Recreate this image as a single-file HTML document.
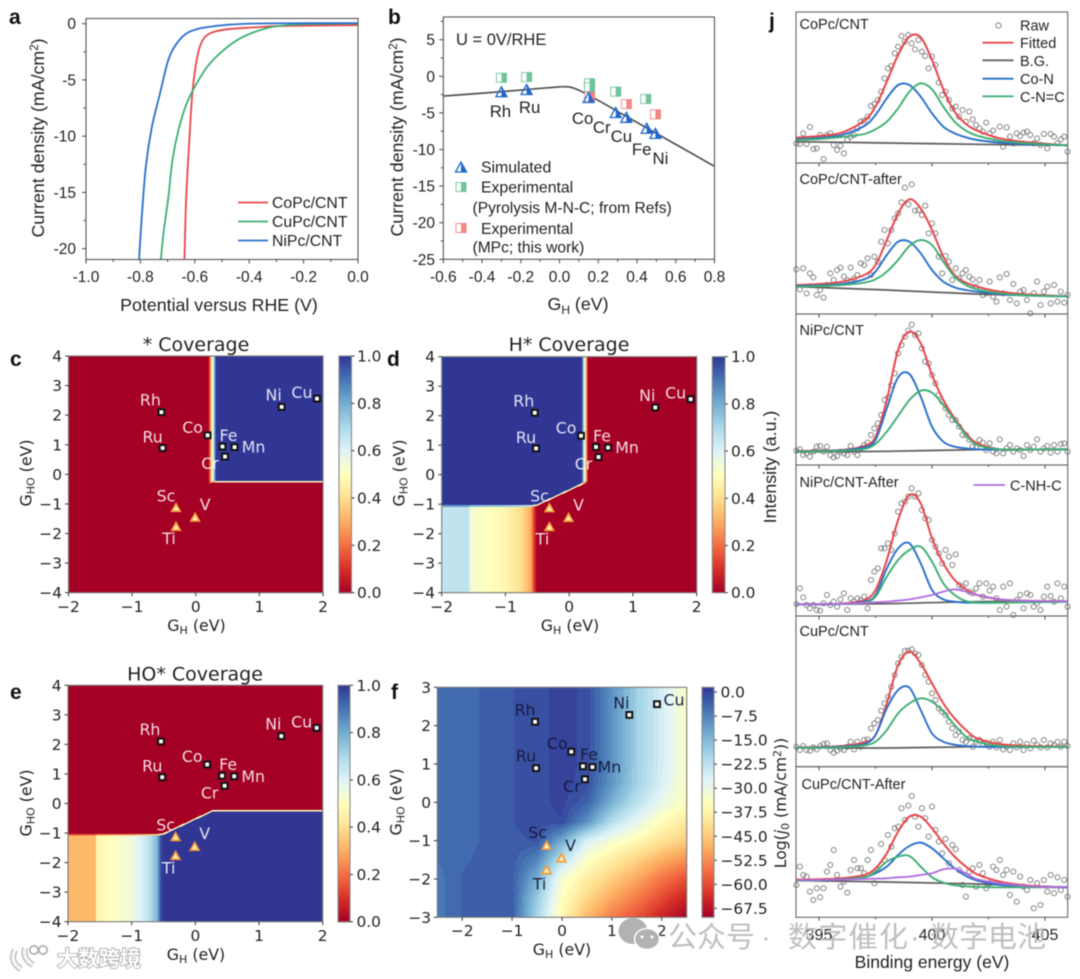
<!DOCTYPE html>
<html lang="en">
<head>
<meta charset="utf-8">
<title>HER catalyst figure</title>
<style>
html,body{margin:0;padding:0;background:#fff;width:1080px;height:979px;overflow:hidden}
svg{display:block;filter:blur(0.55px)}
text{font-family:"Liberation Sans","Noto Sans CJK SC",sans-serif;fill:#222}
.dj{font-family:"DejaVu Sans",sans-serif}
.letter{font-size:21px;font-weight:bold;fill:#111}
.lab{font-size:17.8px}
.lg{font-size:15.8px}
.jt{font-size:14.5px}
.mpl{font-family:"DejaVu Sans",sans-serif;font-size:15.8px}
.title{font-family:"DejaVu Sans",sans-serif;font-size:19px}
.wm{font-family:"Liberation Sans","Noto Sans CJK SC",sans-serif;font-size:29px;fill:#b4b4b4;fill-opacity:.85}
</style>
</head>
<body>
<svg id="fig" xmlns="http://www.w3.org/2000/svg" width="1080" height="979" viewBox="0 0 1080 979">
  <rect x="0" y="0" width="1080" height="979" fill="#fff"/>
  <g id="panel-a"></g>
  <g id="panel-b"></g>
  <g id="panel-c"></g>
  <g id="panel-d"></g>
  <g id="panel-e"></g>
  <g id="panel-f"></g>
  <g id="panel-j"></g>

  <text class="letter" x="9" y="24">a</text>
  <text class="letter" x="388" y="24">b</text>
  <text class="letter" x="10" y="366">c</text>
  <text class="letter" x="387" y="366">d</text>
  <text class="letter" x="10" y="699">e</text>
  <text class="letter" x="391" y="699">f</text>
  <text class="letter" x="769" y="28">j</text>

  <text class="lab" x="219" y="311" text-anchor="middle">Potential versus RHE (V)</text>
  <text class="lab" transform="translate(44,138) rotate(-90)" text-anchor="middle">Current density (mA/cm<tspan font-size="11.5" dy="-6">2</tspan><tspan dy="6">)</tspan></text>
  <line x1="238" y1="202.5" x2="268" y2="202.5" stroke="#e8474c" stroke-width="1.8"/>
  <line x1="238" y1="221.5" x2="268" y2="221.5" stroke="#3fae74" stroke-width="1.8"/>
  <line x1="238" y1="240.5" x2="268" y2="240.5" stroke="#2a6fcb" stroke-width="1.8"/>
  <text class="lg" x="272" y="208">CoPc/CNT</text>
  <text class="lg" x="272" y="227">CuPc/CNT</text>
  <text class="lg" x="272" y="246">NiPc/CNT</text>

  <text class="lab" x="578" y="310" text-anchor="middle">G<tspan font-size="12" dy="4">H</tspan><tspan dy="-4"> (eV)</tspan></text>
  <text class="lab" transform="translate(403,137) rotate(-90)" text-anchor="middle">Current density (mA/cm<tspan font-size="11.5" dy="-6">2</tspan><tspan dy="6">)</tspan></text>
  <text x="456" y="45" font-size="16.5">U = 0V/RHE</text>
  <text class="lg" x="481" y="172.5">Simulated</text>
  <text class="lg" x="481" y="192.5">Experimental</text>
  <text x="472.5" y="213" font-size="15.6">(Pyrolysis M-N-C; from Refs)</text>
  <text class="lg" x="481" y="234">Experimental</text>
  <text x="472.5" y="252.5" font-size="15.6">(MPc; this work)</text>

  <text class="title" x="196" y="351" text-anchor="middle">* Coverage</text>
  <text class="title" x="569" y="351" text-anchor="middle">H* Coverage</text>
  <text class="title" x="195" y="680.5" text-anchor="middle">HO* Coverage</text>

  <text class="mpl" x="196.5" y="631" text-anchor="middle">G<tspan font-size="11" dy="3">H</tspan><tspan dy="-3"> (eV)</tspan></text>
  <text class="mpl" x="570" y="631" text-anchor="middle">G<tspan font-size="11" dy="3">H</tspan><tspan dy="-3"> (eV)</tspan></text>
  <text class="mpl" x="196" y="960" text-anchor="middle">G<tspan font-size="11" dy="3">H</tspan><tspan dy="-3"> (eV)</tspan></text>
  <text class="mpl" x="562" y="955" text-anchor="middle">G<tspan font-size="11" dy="3">H</tspan><tspan dy="-3"> (eV)</tspan></text>
  <text class="mpl" transform="translate(31.5,473) rotate(-90)" text-anchor="middle">G<tspan font-size="11" dy="3">HO</tspan><tspan dy="-3"> (eV)</tspan></text>
  <text class="mpl" transform="translate(404.5,473) rotate(-90)" text-anchor="middle">G<tspan font-size="11" dy="3">HO</tspan><tspan dy="-3"> (eV)</tspan></text>
  <text class="mpl" transform="translate(31.5,803) rotate(-90)" text-anchor="middle">G<tspan font-size="11" dy="3">HO</tspan><tspan dy="-3"> (eV)</tspan></text>
  <text class="mpl" transform="translate(401.5,802) rotate(-90)" text-anchor="middle">G<tspan font-size="11" dy="3">HO</tspan><tspan dy="-3"> (eV)</tspan></text>
  <text class="mpl" style="font-size:15.6px" transform="translate(786,803) rotate(-90)" text-anchor="middle">Log(<tspan font-style="italic">j</tspan><tspan font-size="11" dy="3">0</tspan><tspan dy="-3"> (mA/cm</tspan><tspan font-size="11" dy="-5">2</tspan><tspan dy="5">))</tspan></text>

  <text class="jt" x="799.5" y="29">CoPc/CNT</text>
  <text class="jt" x="799.5" y="184">CoPc/CNT-after</text>
  <text class="jt" x="799.5" y="335">NiPc/CNT</text>
  <text class="jt" x="799.5" y="487">NiPc/CNT-After</text>
  <text class="jt" x="799.5" y="636">CuPc/CNT</text>
  <text class="jt" x="801.5" y="789">CuPc/CNT-After</text>
  <circle cx="998.5" cy="25.5" r="2.6" fill="none" stroke="#888" stroke-width="1"/>
  <line x1="982.5" y1="42.7" x2="1013.5" y2="42.7" stroke="#e8474c" stroke-width="1.8"/>
  <line x1="982.5" y1="60.3" x2="1013.5" y2="60.3" stroke="#666" stroke-width="1.8"/>
  <line x1="982.5" y1="78.7" x2="1013.5" y2="78.7" stroke="#2a6fcb" stroke-width="1.8"/>
  <line x1="982.5" y1="96.3" x2="1013.5" y2="96.3" stroke="#3fae74" stroke-width="1.8"/>
  <text class="jt" x="1020" y="30.5">Raw</text>
  <text class="jt" x="1020" y="48">Fitted</text>
  <text class="jt" x="1020" y="66">B.G.</text>
  <text class="jt" x="1020" y="84">Co-N</text>
  <text class="jt" x="1020" y="102">C-N=C</text>
  <line x1="973.5" y1="485" x2="1005" y2="485" stroke="#b06be0" stroke-width="1.8"/>
  <text class="jt" x="1010" y="490.5">C-NH-C</text>
  <text class="lab" x="932" y="968" text-anchor="middle" style="font-size:17.5px">Binding energy (eV)</text>
  <text class="lab" transform="translate(776,467) rotate(-90)" text-anchor="middle">Intensity (a.u.)</text>

  <g>
    <ellipse cx="633" cy="931" rx="14.5" ry="13" fill="#b2b2b2"/>
    <ellipse cx="647" cy="939" rx="12.5" ry="10.5" fill="#b2b2b2" stroke="#fff" stroke-width="1.5"/>
    <circle cx="642" cy="937" r="1.5" fill="#fff"/>
    <circle cx="652" cy="937" r="1.5" fill="#fff"/>
    <text class="wm" x="668" y="947">公众号</text>
    <text class="wm" x="761" y="947">·</text>
    <text class="wm" x="788" y="947" textLength="120">数字催化</text>
    <text class="wm" x="910" y="947">·</text>
    <text class="wm" x="930" y="947" textLength="116">数字电池</text>
  </g>
  <g>
    <path d="M15 950 Q9 962 21 969 M25 948 Q22 958 33 965" fill="none" stroke="#b5b5b5" stroke-width="6"/>
    <path d="M15 950 Q9 962 21 969 M25 948 Q22 958 33 965" fill="none" stroke="#f4f4f4" stroke-width="3.5"/>
    <circle cx="34" cy="950" r="4.2" fill="#fff" stroke="#aaa" stroke-width="1.6"/>
    <circle cx="43" cy="950" r="4.2" fill="#fff" stroke="#aaa" stroke-width="1.6"/>
    <text x="57" y="966" font-size="21" font-weight="bold" style="fill:#fff;stroke:#a8a8a8;stroke-width:1.6px;paint-order:stroke">大数跨境</text>
  </g>
</svg>

<script>
/* ---------- panel a data ---------- */
const aXTicks = [-1.0,-0.8,-0.6,-0.4,-0.2,0.0];
const aXMinor = [-0.9,-0.7,-0.5,-0.3,-0.1];
const aYTicks = [0,-5,-10,-15,-20];
const aYMinor = [-2.5,-7.5,-12.5,-17.5];
const coPcV = [-0.638,-0.632,-0.62,-0.609,-0.593,-0.574,-0.544,-0.482,-0.384,-0.274,0];
const coPcJ = [-21,-15.7,-10.3,-6.2,-3.2,-1.6,-0.86,-0.5,-0.33,-0.2,-0.12];
const cuPcV = [-0.725,-0.715,-0.697,-0.682,-0.66,-0.63,-0.593,-0.55,-0.494,-0.433,-0.37,-0.31,-0.212,0];
const cuPcJ = [-21,-18.6,-15.4,-12.1,-9.45,-7.1,-5.3,-3.7,-2.34,-1.3,-0.65,-0.27,-0.06,0.03];
const niPcV = [-0.805,-0.795,-0.78,-0.758,-0.728,-0.697,-0.666,-0.63,-0.58,-0.52,-0.458,-0.335,0];
const niPcJ = [-21,-17.2,-12.7,-9.2,-6.2,-3.2,-1.75,-0.86,-0.41,-0.2,-0.06,0.03,0.05];

/* ---------- panel b data ---------- */
const bXTicks = [-0.6,-0.4,-0.2,0.0,0.2,0.4,0.6,0.8];
const bXMinor = [-0.5,-0.3,-0.1,0.1,0.3,0.5,0.7];
const bYTicks = [5,0,-5,-10,-15,-20,-25];
const bYMinor = [7.5,2.5,-2.5,-7.5,-12.5,-17.5,-22.5];
const volcanoG = [-0.6,-0.3,-0.1,0,0.05,0.1,0.2,0.3,0.4,0.5,0.6,0.7,0.8];
const volcanoJ = [-2.7,-2.1,-1.65,-1.45,-1.45,-1.9,-3.3,-4.8,-6.3,-7.8,-9.3,-10.8,-12.3];
const simNames = ["Rh","Ru","Co","Cr","Cu","Fe","Ni"];
const simG = [-0.30,-0.17,0.15,0.29,0.345,0.45,0.495];
const simJ = [-2.1,-1.8,-2.9,-4.95,-5.6,-7.1,-7.8];
const refG = [-0.30,-0.17,0.155,0.155,0.29,0.445];
const refJ = [-0.2,-0.1,-0.95,-1.5,-2.1,-3.1];
const mpcG = [0.155,0.345,0.495];
const mpcJ = [-2.8,-3.8,-5.2];

/* ---------- heatmap shared data ---------- */
const metalNames = ["Rh","Ru","Co","Fe","Mn","Cr","Ni","Cu"];
const metalGH = [-0.54,-0.52,0.186,0.42,0.61,0.46,1.35,1.905];
const metalGHO = [2.1,0.89,1.32,0.94,0.92,0.6,2.28,2.56];
const earlyNames = ["Sc","V","Ti"];
const earlyGH = [-0.31,-0.01,-0.31];
const earlyGHO = [-1.13,-1.46,-1.77];
const covXTicks = [-2,-1,0,1,2];
const covYTicks = [4,3,2,1,0,-1,-2,-3,-4];
const covBarTicks = [0.0,0.2,0.4,0.6,0.8,1.0];
/* boundary between the high-GHO and low-GHO regimes */
const boundaryGH = [-2,-0.6,-0.5,0.27,2];
const boundaryGHO = [-1.06,-1.06,-1.03,-0.25,-0.25];
/* coverage profiles along GH above / below the boundary */
const starUpperGH = [-2,0.2,0.32,2];
const starUpperVal = [0,0,1,1];
const starLowerGH = [-2,2];
const starLowerVal = [0,0];
const hUpperGH = [-2,0.2,0.3,2];
const hUpperVal = [1,1,0,0];
const hLowerGH = [-2,-1.57,-1.55,-1,-0.75,-0.6,-0.54,-0.5,2];
const hLowerVal = [0.66,0.66,0.53,0.47,0.4,0.3,0.1,0,0];
const hoUpperGH = [-2,2];
const hoUpperVal = [0,0];
const hoLowerGH = [-2,-1.57,-1.55,-1,-0.75,-0.6,-0.54,-0.5,2];
const hoLowerVal = [0.32,0.32,0.47,0.55,0.65,0.78,0.97,1,1];

/* ---------- panel f data ---------- */
const fXTicks = [-2,-1,0,1,2];
const fYTicks = [3,2,1,0,-1,-2,-3];
const fBarTicks = [0.0,-7.5,-15.0,-22.5,-30.0,-37.5,-45.0,-52.5,-60.0,-67.5];
const fGridGH = [-2.5,-2,-1.5,-1,-0.5,0,0.5,1,1.5,2,2.5];
const fGridGHO = [3,2.5,2,1.5,1,0.5,0,-0.5,-1,-1.5,-2,-2.5,-3];
const fLogJ = [
 [-4.5,-4.5,-3.4,-2.3,-1.3,-0.1,-1.2,-9.3,-18.6,-25.8,-33.7],
 [-4.5,-4.5,-3.4,-2.3,-1.3,-0.1,-1.2,-9.3,-18.6,-25.8,-33.7],
 [-4.5,-4.5,-3.4,-2.3,-1.3,-0.1,-1.2,-9.3,-18.6,-25.8,-33.7],
 [-4.5,-4.5,-3.4,-2.3,-1.3,-0.1,-1.2,-9.3,-18.6,-25.8,-33.7],
 [-4.5,-4.5,-3.4,-2.3,-1.3,-0.1,-1.2,-9.3,-18.6,-25.8,-33.7],
 [-4.5,-4.5,-3.4,-2.3,-1.3,-0.1,-1.5,-10,-19,-26.5,-34],
 [-4.5,-4.5,-3.4,-2.3,-1.3,-0.2,-3.5,-13.6,-22.2,-29.4,-34.4],
 [-4.5,-4.5,-3.4,-2.3,-1.3,-0.9,-9.3,-21.5,-28.7,-35.1,-39.4],
 [-4.8,-4.5,-3.4,-2.6,-2.1,-12.9,-26.5,-32.2,-35.8,-40.9,-44.5],
 [-5.2,-4,-3.2,-2.9,-7.8,-22.9,-33.7,-38.7,-43.7,-48.8,-52.4],
 [-6,-3.6,-3,-2.9,-13.6,-32.2,-38.7,-44.5,-49.5,-55.2,-59.5],
 [-6,-3.6,-3,-2.9,-17.9,-34.4,-43,-49.5,-54.5,-60.2,-65.3],
 [-6,-3.6,-3,-2.9,-20,-36.6,-47.3,-54.5,-59.5,-65.3,-70.3]
];

/* ---------- panel j data ---------- */
const jXTicks = [395,400,405];
const jXMinor = [397.5,402.5];
const fitEnergy = [394,395,396,397,397.5,398,398.5,399,399.5,400,400.5,401,401.5,402,403,404,405,406];
const bgEnergy = [394,398,402,406];
const rawEnergy = [394,394.15,394.3,394.45,394.6,394.75,394.9,395.05,395.2,395.35,395.5,395.65,395.8,395.95,396.1,396.25,396.4,396.55,396.7,396.85,397,397.15,397.3,397.45,397.6,397.75,397.9,398.05,398.2,398.35,398.5,398.65,398.8,398.95,399.1,399.25,399.4,399.55,399.7,399.85,400,400.15,400.3,400.45,400.6,400.75,400.9,401.05,401.2,401.35,401.5,401.65,401.8,401.95,402.1,402.25,402.4,402.55,402.7,402.85,403,403.15,403.3,403.45,403.6,403.75,403.9,404.05,404.2,404.35,404.5,404.65,404.8,404.95,405.1,405.25,405.4,405.55,405.7,405.85,406];

const fit1 = [76,81,91,127,169,244,324,379,377,309,221,154,117,97,74,64,58,53];
const metalN1 = [71,75,84,111,144,194,234,234,199,149,109,89,77,69,61,57,55,53];
const cnc1 = [69,72,78,87,101,124,164,214,239,221,169,124,97,82,67,60,56,53];
const bg1 = [64,60,56,53];
const raw1 = [59,57,89,57,108,42,44,84,12,84,89,54,39,52,29,69,79,84,104,124,127,139,171,177,189,214,254,284,291,329,349,381,364,384,359,341,369,334,321,284,319,294,241,204,214,189,164,169,139,159,124,154,131,114,104,94,121,89,97,69,109,49,107,79,59,89,81,91,94,84,59,74,54,87,44,87,79,59,71,79,34];

const fit2 = [87,90,97,117,147,222,302,344,317,252,172,117,94,82,67,60,56,53];
const metalN2 = [84,86,90,104,127,177,217,217,182,132,97,80,72,67,60,56,54,53];
const cnc2 = [82,84,87,94,104,127,162,204,222,207,157,112,87,74,62,57,54,53];
const bg2 = [82,72,60,53];
const raw2 = [134,74,137,62,122,110,57,72,49,87,122,102,132,139,112,102,139,107,117,152,147,167,117,172,157,217,252,212,252,287,302,335,379,329,389,310,312,297,325,242,272,242,172,122,174,157,102,137,107,122,132,112,104,82,102,57,62,97,52,37,110,62,120,42,90,32,67,72,42,2,62,97,27,67,82,32,87,37,67,34,57];

const fit3 = [42,43,45,57,85,195,345,400,365,270,195,140,95,65,47,46,47,47];
const metalN3 = [41,42,44,53,75,170,263,273,205,115,70,55,50,47,46,46,47,47];
const cnc3 = [40,41,43,48,63,100,147,195,223,217,180,135,90,60,47,46,47,47];
const bg3 = [39,41,46,47];
const raw3 = [43,47,30,35,25,40,55,57,40,55,30,23,27,40,35,30,57,40,30,50,60,67,90,110,125,150,195,203,240,275,335,360,385,403,421,390,395,350,310,305,270,245,210,190,170,150,135,135,115,90,90,75,55,53,75,67,45,65,40,35,77,35,50,60,40,50,45,27,60,45,55,77,40,50,57,37,60,40,63,65,40];

const fit4 = [35,35,37,48,78,168,288,363,338,233,158,108,80,63,50,46,45,44];
const metalN4 = [35,35,36,43,63,143,203,218,158,78,50,43,40,40,40,41,42,43];
const cnc4 = [35,35,36,40,58,118,168,198,208,163,98,63,45,40,40,41,42,43];
const nh4 = [35,35,37,39,41,43,46,50,56,63,73,80,73,63,50,46,45,44];
const bg4 = [35,37,43,43];
const raw4 = [36,83,56,33,23,33,18,16,38,63,33,43,28,50,68,18,53,43,53,48,58,23,108,133,143,203,203,218,198,248,313,338,343,358,383,358,368,318,293,288,228,208,188,158,198,178,153,185,93,88,98,73,68,83,98,58,98,76,88,53,18,88,28,98,3,48,63,23,68,63,28,38,18,58,88,60,43,98,53,88,28];

const fit5 = [58,59,62,73,95,190,305,345,310,250,190,145,110,85,68,63,61,60];
const metalN5 = [57,58,60,68,95,175,230,237,170,100,75,66,62,60,59,59,59,59];
const cnc5 = [57,57,58,64,75,110,160,190,205,195,165,125,90,75,62,60,59,59];
const bg5 = [57,56,60,60];
const raw5 = [60,50,62,50,48,58,52,62,68,70,50,42,48,55,50,60,75,52,75,60,80,82,115,130,140,168,190,210,240,275,310,330,348,348,352,340,335,305,275,255,220,200,175,165,155,135,115,95,105,80,75,85,60,75,80,68,72,60,75,58,80,52,60,50,70,58,75,50,68,55,78,65,58,80,58,70,65,74,60,75,62];

const fit6 = [113,114,117,127,147,192,257,302,302,267,222,182,152,129,107,97,92,90];
const metalN6 = [110,111,114,120,132,152,187,214,224,207,177,147,124,110,97,93,91,90];
const cnc6 = [110,111,114,120,137,167,182,184,152,120,104,96,93,91,90,90,90,90];
const nh6 = [112,112,113,115,116,117,120,122,127,132,144,146,132,114,102,95,91,90];
const bg6 = [110,106,100,90];
const raw6 = [97,152,127,122,77,52,87,60,87,137,157,202,127,92,107,74,142,172,147,147,132,172,202,102,142,220,172,247,212,267,272,327,292,335,364,302,272,327,297,242,332,262,227,192,235,162,217,204,142,97,62,137,147,92,157,132,87,102,152,142,172,127,142,67,137,47,122,92,82,112,27,102,37,112,77,127,72,120,82,112,62];

/* ---------- helpers ---------- */
const NS = "http://www.w3.org/2000/svg";
function add(parent, tag, attrs, name) {
  const n = document.createElementNS(NS, tag);
  for (const k in attrs) n.setAttribute(k, attrs[k]);
  
  
  parent.appendChild(n);
  return n;
}
function addText(parent, str, attrs, name) {
  const n = add(parent, 'text', attrs, name);
  n.textContent = str;
  return n;
}
function scale(d0, d1, r0, r1) {
  const f = v => r0 + (v - d0) / (d1 - d0) * (r1 - r0);
  f.inv = p => d0 + (p - r0) / (r1 - r0) * (d1 - d0);
  return f;
}
function interp(xs, ys, x) {
  if (x <= xs[0]) return ys[0];
  for (let i = 1; i < xs.length; i++) {
    if (x <= xs[i]) return ys[i-1] + (ys[i]-ys[i-1]) * (x-xs[i-1]) / (xs[i]-xs[i-1]);
  }
  return ys[ys.length-1];
}
function smoothPath(xs, ys) {
  let d = "M" + xs[0].toFixed(2) + " " + ys[0].toFixed(2);
  for (let i = 0; i < xs.length-1; i++) {
    const x0 = xs[Math.max(i-1,0)], y0 = ys[Math.max(i-1,0)];
    const x3 = xs[Math.min(i+2,xs.length-1)], y3 = ys[Math.min(i+2,xs.length-1)];
    const c1x = xs[i] + (xs[i+1]-x0)/6, c1y = ys[i] + (ys[i+1]-y0)/6;
    const c2x = xs[i+1] - (x3-xs[i])/6, c2y = ys[i+1] - (y3-ys[i])/6;
    d += "C" + c1x.toFixed(2) + " " + c1y.toFixed(2) + " " + c2x.toFixed(2) + " " + c2y.toFixed(2) + " " + xs[i+1].toFixed(2) + " " + ys[i+1].toFixed(2);
  }
  return d;
}
const cmapStops = ["#a50026","#d73027","#f46d43","#fdae61","#fee090","#ffffbf","#e0f3f8","#abd9e9","#74add1","#4575b4","#313695"];
const cmapRGB = cmapStops.map(h => [parseInt(h.slice(1,3),16),parseInt(h.slice(3,5),16),parseInt(h.slice(5,7),16)]);
function rdylbu(t) {
  t = Math.max(0, Math.min(1, t)) * 10;
  const i = Math.min(9, Math.floor(t)), f = t - i;
  const a = cmapRGB[i], b = cmapRGB[i+1];
  return "rgb(" + Math.round(a[0]+(b[0]-a[0])*f) + "," + Math.round(a[1]+(b[1]-a[1])*f) + "," + Math.round(a[2]+(b[2]-a[2])*f) + ")";
}
function frame(g, box, stroke, name) {
  add(g, 'rect', {x:box.x0, y:box.y0, width:box.x1-box.x0, height:box.y1-box.y0, fill:'none', stroke:stroke, 'stroke-width':1.1}, name);
}
function originAxes(g, box, xs, ys, xT, xM, yT, yM, xBase, yEnd) {
  frame(g, box, '#555', 'plot-frame');
  xT.forEach(v => {
    add(g, 'line', {x1:xs(v), x2:xs(v), y1:box.y1, y2:box.y1+4, stroke:'#444', 'stroke-width':1}, 'x-tick');
    addText(g, v.toFixed(1), {x:xs(v), y:xBase, 'text-anchor':'middle', 'font-size':15.5}, 'x-tick-label');
  });
  xM.forEach(v => {
    add(g, 'line', {x1:xs(v), x2:xs(v), y1:box.y1, y2:box.y1+2.5, stroke:'#444', 'stroke-width':1}, 'x-minor-tick');
  });
  yT.forEach(v => {
    add(g, 'line', {x1:box.x0-4, x2:box.x0, y1:ys(v), y2:ys(v), stroke:'#444', 'stroke-width':1}, 'y-tick');
    addText(g, String(v), {x:yEnd, y:ys(v)+5.5, 'text-anchor':'end', 'font-size':15.5}, 'y-tick-label');
  });
  yM.forEach(v => {
    add(g, 'line', {x1:box.x0-2.5, x2:box.x0, y1:ys(v), y2:ys(v), stroke:'#444', 'stroke-width':1}, 'y-minor-tick');
  });
}

/* ---------- panel a ---------- */
(function () {
  const g = document.getElementById('panel-a');
  const box = {x0:86, x1:358, y0:18.5, y1:259.5};
  const xs = scale(-1, 0, box.x0, box.x1), ys = scale(0, -20, 23.7, 248.7);
  [[coPcV,coPcJ,'#e8474c','curve-copc'],[cuPcV,cuPcJ,'#3fae74','curve-cupc'],[niPcV,niPcJ,'#2a6fcb','curve-nipc']].forEach(s => {
    add(g, 'path', {d:smoothPath(s[0].map(xs), s[1].map(ys)), fill:'none', stroke:s[2], 'stroke-width':1.8}, s[3]);
  });
  originAxes(g, box, xs, ys, aXTicks, aXMinor, aYTicks, aYMinor, 282, 76);
})();

/* ---------- panel b ---------- */
function halfTriangle(g, x, y, color, name) {
  add(g, 'polygon', {points:[x-5.5,y+5,x,y-5,x+5.5,y+5].join(' '), fill:'none', stroke:color, 'stroke-width':1.3}, name);
  add(g, 'polygon', {points:[x,y-5,x+5.5,y+5,x,y+5].join(' '), fill:color}, name + '-fill');
}
function halfSquare(g, x, y, color, name) {
  add(g, 'rect', {x:x-5, y:y-4.5, width:10, height:9, fill:'#fff', stroke:color, 'stroke-width':0.9, 'stroke-opacity':0.8}, name);
  add(g, 'rect', {x:x, y:y-4.5, width:5, height:9, fill:color, 'fill-opacity':0.8}, name + '-fill');
}
(function () {
  const g = document.getElementById('panel-b');
  const box = {x0:443.3, x1:714.5, y0:17, y1:259.3};
  const xs = scale(-0.6, 0.8, box.x0, box.x1), ys = scale(0, -25, 76.3, 259.3);
  add(g, 'path', {d:smoothPath(volcanoG.map(xs), volcanoJ.map(ys)), fill:'none', stroke:'#4a4a4a', 'stroke-width':1.6}, 'volcano-curve');
  refG.forEach((v,i) => { halfSquare(g, xs(v), ys(refJ[i]), '#4db583', 'experimental-ref-point'); });
  mpcG.forEach((v,i) => { halfSquare(g, xs(v), ys(mpcJ[i]), '#ef6a6a', 'experimental-mpc-point'); });
  simG.forEach((v,i) => { halfTriangle(g, xs(v), ys(simJ[i]), '#1f68cc', 'simulated-point-' + simNames[i].toLowerCase()); });
  const off = {Rh:[-1,20],Ru:[3,18],Co:[-6,21],Cr:[-14,15],Cu:[-5,19],Fe:[-5,21],Ni:[5,25]};
  simNames.forEach((n,i) => {
    addText(g, n, {x:xs(simG[i])+off[n][0], y:ys(simJ[i])+off[n][1]+5.5, 'text-anchor':'middle', 'font-size':16.8}, 'metal-label-' + n.toLowerCase());
  });
  halfTriangle(g, 461, 167, '#1f68cc', 'legend-marker-simulated');
  halfSquare(g, 461, 187, '#4db583', 'legend-marker-experimental-refs');
  halfSquare(g, 461, 228, '#ef6a6a', 'legend-marker-experimental-mpc');
  originAxes(g, box, xs, ys, bXTicks, bXMinor, bYTicks, bYMinor, 282, 435);
})();

/* ---------- coverage heatmaps c, d, e ---------- */
const labelOffsets = {Rh:[-11,-12],Ru:[-10,-11],Co:[-15,-8],Fe:[6,-11],Mn:[19,0],Cr:[-15,7],Ni:[-8,-12],Cu:[-15,-6],Sc:[-10,-12],V:[10,-13],Ti:[-7,12]};
const labelOffsetsF = {Rh:[-10,-12],Ru:[-10,-12],Co:[-14,-8],Fe:[6,-12],Mn:[17,0],Cr:[-13,7],Ni:[-8,-12],Cu:[17,-4],Sc:[-9,-13],V:[9,-13],Ti:[-7,14]};
function elementMarkers(g, xs, ys, offsets, labelColor, labelOpacity) {
  metalGH.forEach((v,i) => {
    add(g, 'rect', {x:xs(v)-2.9, y:ys(metalGHO[i])-2.9, width:5.8, height:5.8, fill:'#fff', stroke:'#111', 'stroke-width':2}, 'metal-marker-' + metalNames[i].toLowerCase());
  });
  earlyGH.forEach((v,i) => {
    const x = xs(v), y = ys(earlyGHO[i]);
    add(g, 'polygon', {points:[x-4.3,y+3.5,x,y-4.2,x+4.3,y+3.5].join(' '), fill:'#ffeeb8', stroke:'#f29a34', 'stroke-width':1.6}, 'early-metal-marker-' + earlyNames[i].toLowerCase());
  });
  metalNames.concat(earlyNames).forEach((n,i) => {
    const gh = i < metalGH.length ? metalGH[i] : earlyGH[i-metalGH.length];
    const gho = i < metalGH.length ? metalGHO[i] : earlyGHO[i-metalGH.length];
    addText(g, n, {x:xs(gh)+offsets[n][0], y:ys(gho)+offsets[n][1]+5.5, 'text-anchor':'middle', 'font-size':15.8, 'class':'dj', style:'fill:' + labelColor + ';fill-opacity:' + labelOpacity}, 'element-label-' + n.toLowerCase());
  });
}
function mplAxes(g, box, xs, ys, xT, yT, xBase, yEnd) {
  frame(g, box, '#7a7a7a', 'plot-frame');
  xT.forEach(v => {
    add(g, 'line', {x1:xs(v), x2:xs(v), y1:box.y1, y2:box.y1+3.5, stroke:'#222', 'stroke-width':0.9}, 'x-tick');
    addText(g, String(v).replace('-','\u2212'), {x:xs(v), y:xBase, 'text-anchor':'middle', 'font-size':15.4, 'class':'dj'}, 'x-tick-label');
  });
  yT.forEach(v => {
    add(g, 'line', {x1:box.x0-3.5, x2:box.x0, y1:ys(v), y2:ys(v), stroke:'#222', 'stroke-width':0.9}, 'y-tick');
    addText(g, String(v).replace('-','\u2212'), {x:yEnd, y:ys(v)+5.5, 'text-anchor':'end', 'font-size':15.4, 'class':'dj'}, 'y-tick-label');
  });
}
function colorbar(g, bar, tMin, tMax, ticks, fmt, labelX) {
  const ys = scale(tMin, tMax, bar.y1, bar.y0);
  for (let p = bar.y0; p < bar.y1; p += 1) {
    const v = ys.inv(p + 0.5);
    add(g, 'rect', {x:bar.x0, y:p, width:bar.x1-bar.x0, height:1.3, fill:rdylbu((v-tMin)/(tMax-tMin)), 'shape-rendering':'crispEdges'}, 'colorbar-cell');
  }
  frame(g, bar, '#8a8a8a', 'colorbar-frame');
  ticks.forEach(v => {
    add(g, 'line', {x1:bar.x1, x2:bar.x1+3, y1:ys(v), y2:ys(v), stroke:'#222', 'stroke-width':0.9}, 'colorbar-tick');
    addText(g, fmt(v), {x:labelX, y:ys(v)+5.5, 'font-size':15.4, 'class':'dj'}, 'colorbar-tick-label');
  });
}
function coveragePanel(id, box, bar, upGH, upVal, loGH, loVal, barLabelX, xBase, yEnd) {
  const g = document.getElementById(id);
  const xs = scale(-2, 2, box.x0, box.x1), ys = scale(-4, 4, box.y1, box.y0);
  for (let p = box.x0; p < box.x1; p += 1) {
    const gh = xs.inv(p + 0.5);
    const up = interp(upGH, upVal, gh), lo = interp(loGH, loVal, gh);
    const by = ys(interp(boundaryGH, boundaryGHO, gh));
    const w = Math.min(1.3, box.x1 - p);
    add(g, 'rect', {x:p, y:box.y0, width:w, height:by-0.8-box.y0, fill:rdylbu(up), 'shape-rendering':'crispEdges'}, 'heatmap-cell');
    add(g, 'rect', {x:p, y:by+0.8, width:w, height:box.y1-by-0.8, fill:rdylbu(lo), 'shape-rendering':'crispEdges'}, 'heatmap-cell');
    add(g, 'rect', {x:p, y:by-0.8, width:w, height:1.6, fill:rdylbu((up+lo)/2), 'shape-rendering':'crispEdges'}, 'heatmap-cell');
  }
  mplAxes(g, box, xs, ys, covXTicks, covYTicks, xBase, yEnd);
  elementMarkers(g, xs, ys, labelOffsets, '#fff', 0.86);
  colorbar(g, bar, 0, 1, covBarTicks, v => v.toFixed(1), barLabelX);
}
coveragePanel('panel-c', {x0:68.5,x1:323,y0:356,y1:592.7}, {x0:339,x1:351.5,y0:356,y1:592.7}, starUpperGH, starUpperVal, starLowerGH, starLowerVal, 357, 612, 62);
coveragePanel('panel-d', {x0:441.7,x1:696.7,y0:356.7,y1:592.7}, {x0:712.3,x1:725,y0:356.7,y1:592.7}, hUpperGH, hUpperVal, hLowerGH, hLowerVal, 731, 612, 435);
coveragePanel('panel-e', {x0:68,x1:322.7,y0:685.3,y1:921.7}, {x0:338,x1:350,y0:685.3,y1:921.7}, hoUpperGH, hoUpperVal, hoLowerGH, hoLowerVal, 356.5, 941, 61.5);

/* ---------- panel f ---------- */
(function () {
  const g = document.getElementById('panel-f');
  const box = {x0:437.3, x1:686.7, y0:687.3, y1:917.3};
  const bar = {x0:702, x1:714, y0:687.3, y1:917.3};
  const xs = scale(-2.5, 2.5, box.x0, box.x1), ys = scale(-3, 3, box.y1, box.y0);
  const vMin = -70.3, vMax = 1.5, step = 1.5;
  function logJ(gh, gho) {
    const fx = Math.min(fGridGH.length-1.0001, Math.max(0, (gh-fGridGH[0])/(fGridGH[1]-fGridGH[0])));
    const fy = Math.min(fGridGHO.length-1.0001, Math.max(0, (fGridGHO[0]-gho)/(fGridGHO[0]-fGridGHO[1])));
    const i = Math.floor(fx), j = Math.floor(fy), a = fx-i, b = fy-j;
    return (fLogJ[j][i]*(1-a)+fLogJ[j][i+1]*a)*(1-b) + (fLogJ[j+1][i]*(1-a)+fLogJ[j+1][i+1]*a)*b;
  }
  for (let p = box.x0; p < box.x1; p += 1.5) {
    const gh = xs.inv(p + 0.75);
    let start = box.y0, last = null;
    for (let q = box.y0; q <= box.y1; q += 1.5) {
      const lev = q >= box.y1 ? null : Math.round(logJ(gh, ys.inv(q + 0.75)) / step) * step;
      if (lev !== last) {
        if (last !== null) {
          add(g, 'rect', {x:p, y:start, width:Math.min(1.8, box.x1-p), height:Math.min(q, box.y1)-start, fill:rdylbu((last-vMin)/(vMax-vMin)), 'shape-rendering':'crispEdges'}, 'heatmap-band');
        }
        start = q;
        last = lev;
      }
    }
    if (last !== null) {
      add(g, 'rect', {x:p, y:start, width:Math.min(1.8, box.x1-p), height:box.y1-start, fill:rdylbu((last-vMin)/(vMax-vMin)), 'shape-rendering':'crispEdges'}, 'heatmap-band');
    }
  }
  mplAxes(g, box, xs, ys, fXTicks, fYTicks, 936, 431);
  elementMarkers(g, xs, ys, labelOffsetsF, '#16163a', 0.95);
  colorbar(g, bar, vMin, vMax, fBarTicks, v => v.toFixed(1).replace('-','\u2212'), 720.5);
})();

/* ---------- panel j ---------- */
(function () {
  const g = document.getElementById('panel-j');
  const left = 796, right = 1067.7;
  const xs = scale(395, 405, 819, 1045);
  const rows = [
    {top:12, bottom:163, fit:fit1, a:metalN1, b:cnc1, c:null, bg:bg1, raw:raw1},
    {top:163, bottom:314, fit:fit2, a:metalN2, b:cnc2, c:null, bg:bg2, raw:raw2},
    {top:314, bottom:465, fit:fit3, a:metalN3, b:cnc3, c:null, bg:bg3, raw:raw3},
    {top:465, bottom:616, fit:fit4, a:metalN4, b:cnc4, c:nh4, bg:bg4, raw:raw4},
    {top:616, bottom:766.7, fit:fit5, a:metalN5, b:cnc5, c:null, bg:bg5, raw:raw5},
    {top:766.7, bottom:917.3, fit:fit6, a:metalN6, b:cnc6, c:nh6, bg:bg6, raw:raw6}
  ];
  rows.forEach((r, idx) => {
    const ys = scale(0, 3, r.bottom, r.bottom - 1);
    const tag = 'xps-' + (idx + 1) + '-';
    r.raw.forEach((v, i) => {
      add(g, 'circle', {cx:xs(rawEnergy[i]), cy:ys(v), r:2.5, fill:'none', stroke:'#808080', 'stroke-width':1}, tag + 'raw-point');
    });
    add(g, 'path', {d:smoothPath(bgEnergy.map(xs), r.bg.map(ys)), fill:'none', stroke:'#5c5c5c', 'stroke-width':1.7}, tag + 'background-curve');
    add(g, 'path', {d:smoothPath(fitEnergy.map(xs), r.fit.map(ys)), fill:'none', stroke:'#e8474c', 'stroke-width':2}, tag + 'fitted-curve');
    add(g, 'path', {d:smoothPath(fitEnergy.map(xs), r.a.map(ys)), fill:'none', stroke:'#2a6fcb', 'stroke-width':1.9}, tag + 'metal-n-curve');
    add(g, 'path', {d:smoothPath(fitEnergy.map(xs), r.b.map(ys)), fill:'none', stroke:'#3fae74', 'stroke-width':1.9}, tag + 'c-n-c-curve');
    if (r.c) {
      add(g, 'path', {d:smoothPath(fitEnergy.map(xs), r.c.map(ys)), fill:'none', stroke:'#b06be0', 'stroke-width':1.8}, tag + 'c-nh-c-curve');
    }
    frame(g, {x0:left, x1:right, y0:r.top, y1:r.bottom}, '#666', tag + 'frame');
    jXTicks.forEach(v => {
      add(g, 'line', {x1:xs(v), x2:xs(v), y1:r.bottom, y2:r.bottom+3.5, stroke:'#444', 'stroke-width':1}, tag + 'x-tick');
    });
    jXMinor.forEach(v => {
      add(g, 'line', {x1:xs(v), x2:xs(v), y1:r.bottom, y2:r.bottom+2, stroke:'#444', 'stroke-width':1}, tag + 'x-minor-tick');
    });
  });
  jXTicks.forEach(v => {
    addText(g, String(v), {x:xs(v), y:940, 'text-anchor':'middle', 'font-size':16}, 'xps-x-tick-label');
  });
})();
</script>
</body>
</html>
